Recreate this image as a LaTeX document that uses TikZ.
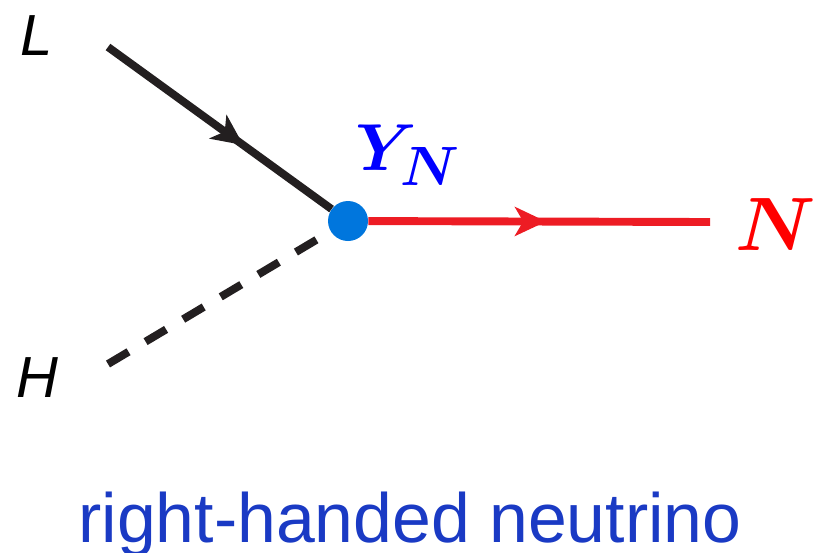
\documentclass[tikz,border=0pt]{standalone}
\usepackage{fontspec}
\setsansfont{Liberation Sans}
\usepackage{amsmath,bm}
\usetikzlibrary{arrows.meta, decorations.markings}
\definecolor{lineblack}{RGB}{35,31,32}
\definecolor{linered}{RGB}{237,28,36}
\definecolor{dotblue}{RGB}{0,118,221}
\definecolor{yblue}{RGB}{0,0,255}
\definecolor{nred}{RGB}{255,0,0}
\definecolor{capblue}{RGB}{26,58,196}
\tikzset{
  prop/.style={line width=4.5pt},
  fermion/.style={prop, postaction={decorate},
    decoration={markings, mark=at position #1 with {\arrow{Stealth[length=18pt,width=17pt,inset=5pt,line width=0pt]}}}},
  scalar/.style={prop, dash pattern=on 13.6pt off 11.3pt},
  vertex/.style={circle, fill=dotblue, inner sep=0pt, minimum size=0.8cm},
  ext/.style={inner sep=0pt, font=\fontsize{33}{40}\selectfont\sffamily\itshape},
}

\begin{document}
\begin{tikzpicture}[x=0.02cm, y=-0.02cm]
  \useasboundingbox (0,0) rectangle (813,552);
  \coordinate (lin) at (108,47);
  \coordinate (hin) at (108,364);
  \coordinate (nout) at (710,222);
  \node[vertex] (v) at (348,221) {};
  \draw[fermion=0.605, lineblack] (lin) -- (v);
  \draw[scalar, lineblack] (hin) -- (v);
  \draw[fermion=0.52, linered] (v) -- (nout);
  \node[ext, anchor=base] (L) at (37,55) {L};
  \node[ext, anchor=base] (H) at (37,397) {H};
  \node[inner sep=0pt, anchor=base, scale=1.73, text=nred] (N) at (776,250) {\Huge$\bm{N}$};
  \node[inner sep=0pt, anchor=base west, scale=1.52, text=yblue] (Y) at (355,170) {\Huge$\bm{Y_N}$};
  \node[inner sep=0pt, anchor=base, text=capblue, font=\fontsize{39.7}{46}\selectfont\sffamily] (cap) at (410,542) {right-handed neutrino};
\end{tikzpicture}
\end{document}
